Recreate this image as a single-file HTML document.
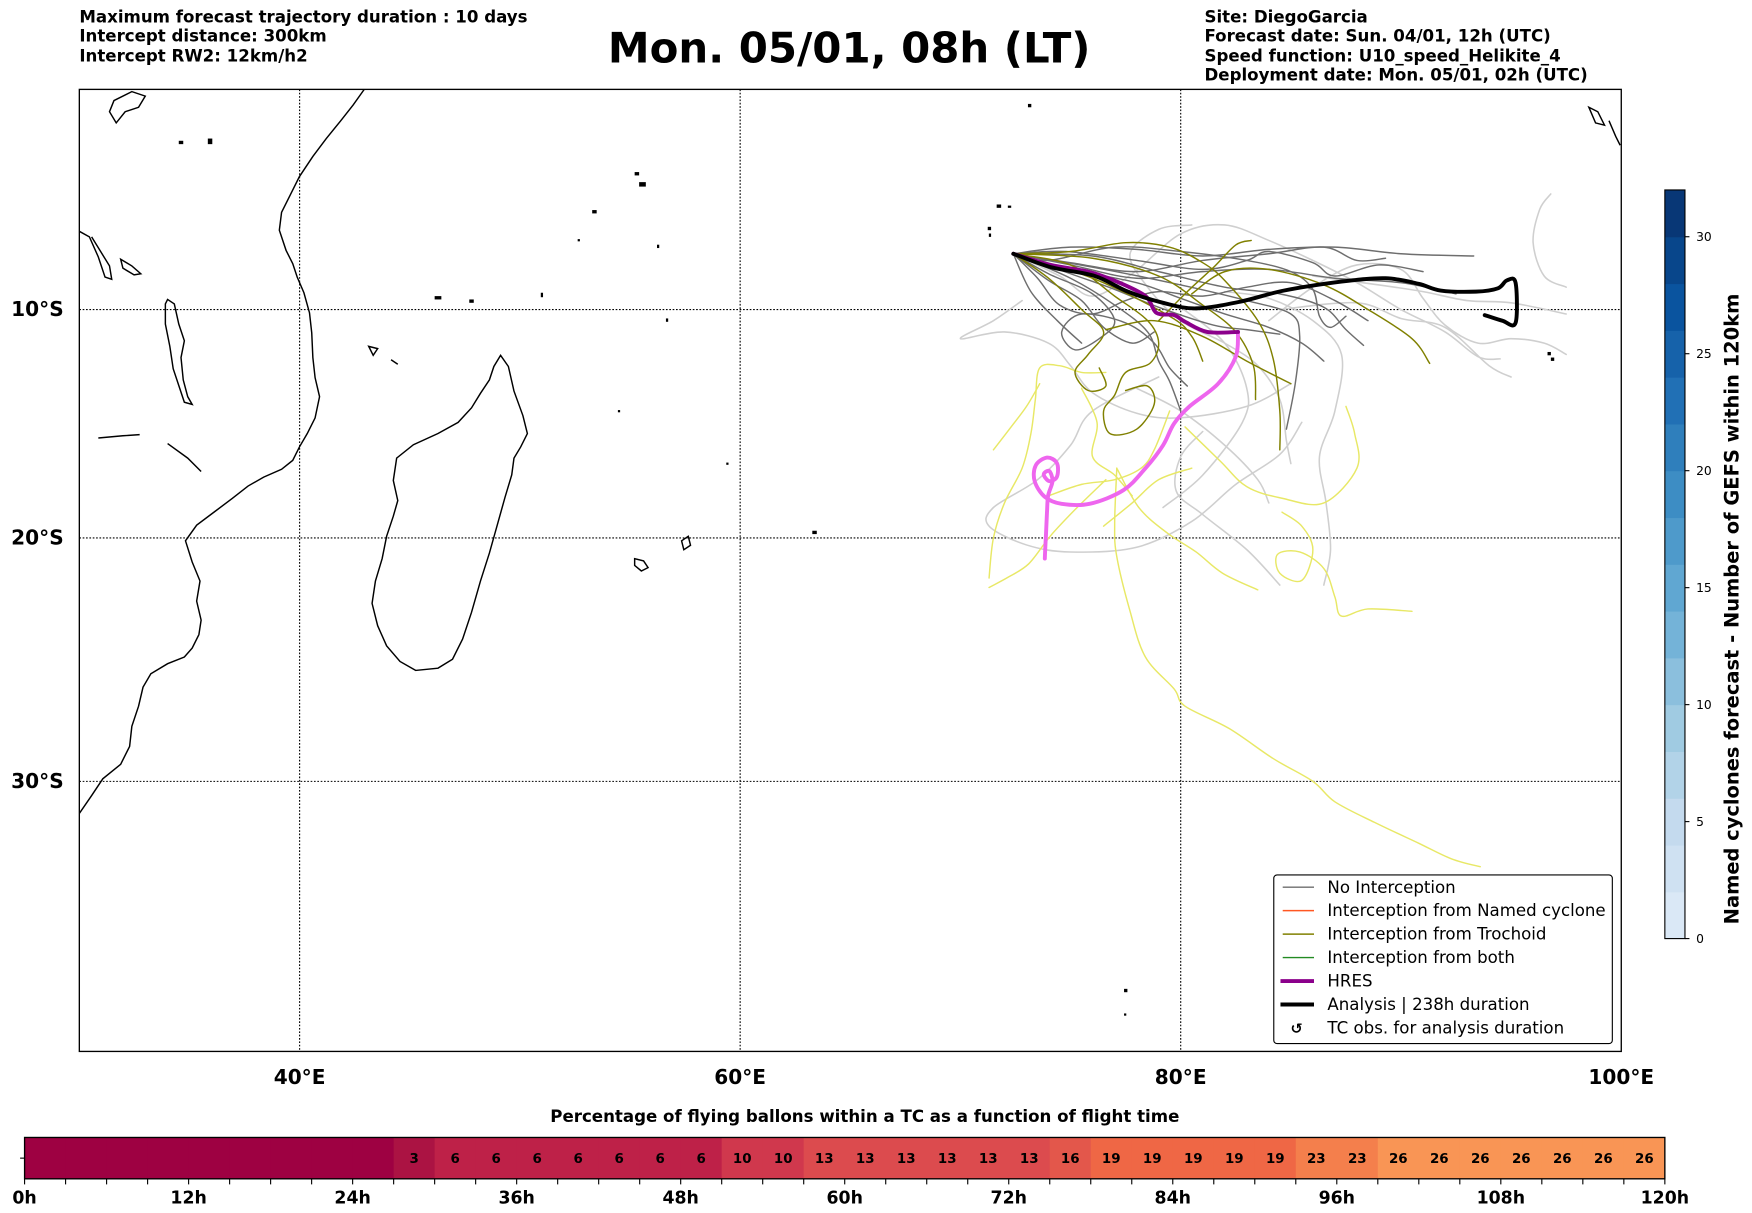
<!DOCTYPE html>
<html><head><meta charset="utf-8"><style>
html,body{margin:0;padding:0;background:#fff;}
svg{display:block;font-family:"DejaVu Sans","Liberation Sans",sans-serif;}
</style></head><body>
<svg id="fig" width="1752" height="1213" viewBox="0 0 1568 1085.6" preserveAspectRatio="none" xmlns="http://www.w3.org/2000/svg">
<rect x="0" y="0" width="1568" height="1086" fill="#fff"/>
<g font-size="14.9" font-weight="bold">
<text x="71" y="20">Maximum forecast trajectory duration : 10 days</text>
<text x="71" y="37">Intercept distance: 300km</text>
<text x="71" y="55">Intercept RW2: 12km/h2</text>
</g>
<text x="760" y="56" font-size="37.5" font-weight="bold" text-anchor="middle">Mon. 05/01, 08h (LT)</text>
<g font-size="14.9" font-weight="bold">
<text x="1078" y="20">Site: DiegoGarcia</text>
<text x="1078" y="37">Forecast date: Sun. 04/01, 12h (UTC)</text>
<text x="1078" y="55">Speed function: U10_speed_Helikite_4</text>
<text x="1078" y="72">Deployment date: Mon. 05/01, 02h (UTC)</text>
</g>
<g id="map">
<clipPath id="mapclip"><rect x="71" y="80" width="1380" height="861"/></clipPath>
<g id="grid"></g>
<g clip-path="url(#mapclip)" fill="none" stroke="#000" stroke-width="1.3">
<path d="M71,728 L82,712 L92,697 L108,684 L116,668 L118,650 L124,632 L128,615 L135,603 L150,594 L165,588 L172,580 L178,568 L180,555 L176,538 L179,520 L172,503 L166,484 L176,470 L192,458 L208,446 L222,435 L236,427 L252,420 L262,412 L268,400 L275,388 L282,374 L286,355 L282,338 L280,320 L279,298 L277,280 L272,262 L266,248 L262,236 L256,224 L250,206 L252,190 L260,174 L268,158 L280,140 L292,124 L305,108 L316,94 L326,80"/>
<path d="M71,207 L80,212 L88,230 L94,248 L100,250 L98,238 L90,225 L82,212"/>
<path d="M150,268 L156,272 L160,290 L165,305 L162,320 L164,340 L168,355 L172,362 L165,360 L160,345 L155,330 L152,310 L148,290 L148,272 Z"/>
<path d="M448,318 L455,328 L460,350 L468,372 L472,388 L466,400 L460,410 L458,425 L452,445 L445,470 L438,495 L430,520 L422,548 L414,572 L405,590 L392,598 L372,600 L358,592 L346,578 L338,560 L333,540 L336,520 L342,500 L346,480 L352,462 L356,448 L352,430 L355,410 L370,398 L392,388 L410,378 L422,365 L430,352 L438,340 L442,328 Z"/>
<path d="M88,392 L110,390 L125,389"/>
<path d="M150,397 L168,410 L180,422"/>
<path d="M108,232 L118,238 L126,245 L120,246 L110,240 Z"/>
<path d="M568,500 L576,502 L580,508 L574,511 L568,506 Z"/>
<path d="M610,484 L616,480 L618,488 L612,492 Z"/>
<path d="M102,90 L118,82 L130,86 L124,96 L112,100 L104,110 L98,100 Z"/>
<path d="M1422,96 L1430,100 L1436,112 L1428,110 Z"/>
<path d="M1440,108 L1446,122 L1450,130"/>
<path d="M330,310 L334,318 L338,312 Z"/>
<path d="M350,322 L356,326"/>
</g>
<g fill="#000" clip-path="url(#mapclip)">
<rect x="892" y="183" width="4" height="3"/><rect x="902" y="184" width="3" height="2"/><rect x="884" y="203" width="3" height="3"/><rect x="885" y="209" width="2" height="3"/>
<rect x="568" y="154" width="4" height="3"/><rect x="572" y="163" width="6" height="4"/><rect x="530" y="188" width="4" height="3"/><rect x="517" y="214" width="2" height="2"/><rect x="588" y="219" width="2" height="3"/>
<rect x="389" y="265" width="6" height="3"/><rect x="420" y="268" width="4" height="3"/><rect x="484" y="262" width="2" height="4"/>
<rect x="1385" y="315" width="3" height="3"/><rect x="1388" y="320" width="3" height="3"/><rect x="1006" y="885" width="3" height="3"/><rect x="1006" y="907" width="2" height="2"/>
<rect x="727" y="475" width="4" height="3"/><rect x="596" y="285" width="2" height="3"/><rect x="553" y="367" width="2" height="2"/><rect x="650" y="414" width="2" height="2"/>
<rect x="920" y="93" width="3" height="3"/><rect x="160" y="126" width="4" height="3"/><rect x="186" y="124" width="4" height="5"/>
</g>
<g id="traj" clip-path="url(#mapclip)"></g>
<rect x="71" y="80" width="1380" height="861" fill="none" stroke="#000" stroke-width="1.2"/>
<g id="axlabels" font-size="18" font-weight="bold"></g>
</g>
<g>
<rect x="1140" y="783" width="303" height="151" rx="3" fill="#fff" stroke="#000" stroke-width="1"/>
<g font-size="14.9">
<g><line x1="1148" y1="794" x2="1176" y2="794" stroke="#6e6e6e" stroke-width="1.3"/><text x="1188" y="799">No Interception</text></g>
<g><line x1="1148" y1="815" x2="1176" y2="815" stroke="#ff5722" stroke-width="1.3"/><text x="1188" y="820">Interception from Named cyclone</text></g>
<g><line x1="1148" y1="836" x2="1176" y2="836" stroke="#808000" stroke-width="1.3"/><text x="1188" y="841">Interception from Trochoid</text></g>
<g><line x1="1148" y1="857" x2="1176" y2="857" stroke="#228b22" stroke-width="1.3"/><text x="1188" y="862">Interception from both</text></g>
<g><line x1="1146" y1="878" x2="1176" y2="878" stroke="#8b008b" stroke-width="3.5"/><text x="1188" y="883">HRES</text></g>
<g><line x1="1146" y1="899" x2="1176" y2="899" stroke="#000" stroke-width="3.5"/><text x="1188" y="904">Analysis | 238h duration</text></g>
<g><text x="1155" y="925" font-weight="bold" font-size="13">↺</text><text x="1188" y="925">TC obs. for analysis duration</text></g>
</g>
</g>
<g id="cbar"></g>
<text transform="translate(1556,545) rotate(-90)" font-size="17.4" font-weight="bold" text-anchor="middle">Named cyclones forecast - Number of GEFS within 120km</text>
<text x="774" y="1004" font-size="14.9" font-weight="bold" text-anchor="middle">Percentage of flying ballons within a TC as a function of flight time</text>
<g id="pbar"></g>
</svg>
<script>
const lonTicks=[40,60,80,100];
const latTicks=[10,20,30];
const analysis=[[72.4,7.5],[74.1,8.1],[76.1,8.5],[77.6,9.2],[79.2,9.7],[80.7,9.95],[82.7,9.65],[84.7,9.15],[87.3,8.75],[89.3,8.6],[90.8,8.85],[91.8,9.15],[93.4,9.2],[94.4,9.05],[94.8,8.7],[95.2,8.8],[95.2,10.6],[94.6,10.5],[93.8,10.25]];
const hres=[[72.4,7.5],[74.1,8.0],[75.8,8.3],[77.1,8.75],[78.4,9.4],[78.9,10.15],[79.7,10.25],[80.2,10.55],[81.2,11.0],[82.6,11.0]];
const hresTail=[[82.6,11.0],[82.5,12.1],[81.7,13.3],[80.4,14.3],[79.7,15.05],[79.2,16.0],[78.4,17.0],[77.4,17.95],[75.86,18.54],[74.59,18.54],[73.83,18.24],[73.37,17.56],[73.42,16.88],[73.93,16.54],[74.38,16.78],[74.38,17.37],[74.03,17.56],[73.78,17.27],[74.03,17.12],[74.18,17.56],[73.98,18.2],[73.93,18.93],[73.88,19.9],[73.83,20.88]];
const noIntercept=[
[[72.4,7.5],[75,7.2],[78,7.3],[81,7.6],[84,7.3],[87,7.2],[90,7.5],[93.3,7.6]],
[[72.4,7.5],[75,7.9],[78,8.3],[81,7.8],[84,7.5],[86.5,7.2],[88,7.8],[89.3,7.7]],
[[72.4,7.5],[74,8.4],[76,9.3],[77,10.5],[76.3,11.3],[75.2,11.8],[74.6,11],[75.5,10.2],[77.5,10.6],[78.8,11.5],[79.5,12.6],[80.3,13.4]],
[[72.4,7.5],[75,8.2],[78,8.8],[80,9.5],[82,10.2],[84,10.8],[85.5,11.5],[86.5,12.3]],
[[72.4,7.5],[73.5,8.6],[74.5,9.8],[76,10.2],[77.5,9.6],[79,9.2],[81,9.4],[83,9.0],[85,8.8],[87,9.6],[88.5,10.5]],
[[72.4,7.5],[76,7.6],[79,8.3],[82,9],[84.5,9.3],[86.5,9.9],[87.5,10.9],[88.3,11.6]],
[[72.4,7.5],[75,8.6],[77,9.8],[78.5,11],[79,12.3],[79.5,13.2],[80,14.5]],
[[72.4,7.5],[74,7.8],[77,7.2],[80,7.4],[83,7.8],[85,8.3],[86,9.1],[86.3,10.3],[86.8,10.8],[87.5,10.3]],
[[72.4,7.5],[75,8],[78,8.6],[81,8.3],[84,8.2],[87,8.6],[90,8.8],[92.5,9.3]],
[[72.4,7.5],[74,8.7],[75.5,9.6],[76.5,10.8],[77.8,11.5],[78.8,11.0]],
[[72.4,7.5],[76,8.1],[80,8.9],[83,9.6],[85,10.2],[85.4,11.2],[85.2,13.3],[84.8,15.3]],
[[72.4,7.5],[75,8.4],[77,9.1],[79,9.9],[81.5,10.7],[83,10.9],[84.5,11.1]],
[[72.4,7.5],[74.8,7.4],[78,7.8],[81,8.2],[83,7.8],[84,7.4],[86,7.9],[87,8.5],[89,8.0],[91,8.3]],
[[72.4,7.5],[73.2,9.2],[74.4,10.5],[75.5,11.5]]
];
const lightTraj=[
[[72.4,7.5],[74.5,8.5],[76,9.4],[77.8,8.4],[80,6.6],[82,6.2],[84,6.9],[86,7.8],[88,8.8],[90,10],[92,11],[93.5,12.1],[94.5,12.2]],
[[72.8,9.6],[71.5,10.5],[70,11.3],[72,11],[74,11.5],[75,12.5],[76,13.7],[78,14.6],[80,14.8],[83,14.3],[85,13.3]],
[[79,13],[76,14.5],[75,16],[73.5,17.5],[71.5,18.7],[71.3,19.5],[73,20.3],[75,20.6],[78,20.4],[80.5,19.3],[82.5,17.7],[84.5,16.4],[85.5,15]],
[[84,10.5],[86,9],[88,8],[90,8.2],[91,9.5],[92,10.7],[93.5,11.5],[95,11.3],[96.5,11.5],[97.5,12]],
[[96.8,4.8],[96.3,5.5],[96,7],[96.5,8.5],[97.5,9]],
[[80.5,6.2],[79,6.4],[77.7,7.5],[78.5,9],[80,10.5],[82,11.5],[83.5,12.5],[84.5,14],[84.8,15.8],[85,16.8]],
[[82,9.2],[84,9.5],[86,10.5],[87.3,12],[87,14.5],[86.3,16.5],[86.6,18.5],[86.8,20.5],[86.5,22]],
[[78,13.5],[80,14.5],[82,16],[83.5,17.5],[84,18.5]],
[[84.5,10],[88,9.7],[90,10.4],[92,10.8],[94,12.5],[95,13]],
[[86,8.5],[89,8.9],[91,9.2],[93,9.6],[95,9.7],[97.5,10.2]],
[[81,15.4],[80,16.5],[79.8,18],[81,19],[83,20.5],[84.5,22]],
[[80,9.9],[82,11.5],[83,13.5],[82.8,15],[81,17.3],[79.2,18.7]]
];
const trochoid=[
[[72.4,7.5],[75,7.4],[77.5,7.0],[79.5,7.2],[81,7.9],[82,8.7],[83.5,10.5],[84.2,12.2],[84.5,14.5],[84.5,16.2]],
[[72.4,7.5],[75,8],[77,9.4],[78.5,10.5],[79,11.5],[78.6,12.4],[77.5,12.8],[77,13.8],[76.5,14.5],[76.8,15.5],[78,15.3],[78.8,14.2],[78.5,13.4],[77.5,13.6]],
[[72.4,7.5],[74,8.6],[75.5,10],[76.5,11],[75.8,12],[75.2,12.8],[75.8,13.6],[76.6,13.4],[76.3,12.6]],
[[72.4,7.5],[76,7.7],[79,8.5],[81,9.8],[82.5,11],[83.3,12.5],[83.4,14]],
[[79,10.5],[80.3,9.2],[81.5,8.1],[82.5,7.1],[83.2,6.9]],
[[72.4,7.5],[76,8.6],[79.5,10.3],[80.5,11.2],[81,12.3]],
[[80.5,9.3],[82,8.3],[84,8.2],[86.5,8.9],[88.5,10],[90.5,11.3],[91.3,12.4]],
[[76.6,10.9],[78.8,10.5],[81,11.2],[83,12.3],[85,13.3]]
];
const yellowTraj=[
[[77.1,17.0],[77.0,19.4],[77.1,20.8],[77.7,23.1],[78.4,25.0],[79.7,26.3],[80.2,27.0],[82.2,27.9],[84.2,29.1],[86.0,30.0],[87.0,30.8],[88.8,31.6],[90.8,32.4],[92.3,33.0],[93.6,33.3]],
[[77.1,17.0],[78.1,18.7],[79.4,19.8],[80.7,20.6],[81.9,21.5],[83.5,22.2]],
[[76.6,17.5],[75.3,18.7],[74.1,19.9],[73.1,21.1],[72.1,21.7],[71.3,22.1]],
[[71.3,21.7],[71.5,20],[72,18.5],[72.8,17],[73.2,15.5],[73.4,14],[73.6,12.6],[74.5,12.5],[75.5,12.8],[76.6,12.8]],
[[71.5,16.2],[72.3,15.2],[73,14.3],[73.6,13.3]],
[[74,18.2],[75.5,17.7],[77,17.5],[78.2,17],[78.8,16.2],[79.5,14.5]],
[[84.6,18.9],[85.5,19.5],[86,20.5],[85.5,21.8],[84.5,21.5],[84.4,20.7],[85.4,20.6],[86.5,21.3],[87,22.5],[87.3,23.3],[88.5,23],[90.5,23.1]],
[[80.2,15.2],[81.8,16.7],[83,17.8],[84.6,18.3],[86.5,18.5],[88,17],[87.9,15.5],[87.5,14.3]],
[[75.5,13.5],[76.2,15],[76,16.5],[77,17.3],[77.8,18.2]],
[[76.5,19.5],[77.8,18.5],[79,17.5],[80.5,17.0]]
];
const cbarTicks=[0,5,10,15,20,25,30];
const pctValues=[0,0,0,0,0,0,0,0,0,3,6,6,6,6,6,6,6,10,10,13,13,13,13,13,13,16,19,19,19,19,19,23,23,26,26,26,26,26,26,26];
const hourTicks=["0h","12h","24h","36h","48h","60h","72h","84h","96h","108h","120h"];

const NS="http://www.w3.org/2000/svg";
const X0=71,PX=19.714,Y10=277;
function merc(lat){const r=lat*Math.PI/180;return Math.log(Math.tan(Math.PI/4+r/2))*180/Math.PI;}
function xOf(lon){return X0+(lon-30)*PX;}
function yOf(lat){return Y10+(merc(lat)-merc(10))*PX;}
function mk(tag,attrs,parent){const e=document.createElementNS(NS,tag);for(const k in attrs)e.setAttribute(k,attrs[k]);parent.appendChild(e);return e;}
function smoothPath(arr){
  const p=arr.map(a=>[xOf(a[0]),yOf(a[1])]);
  let d="M"+p[0][0].toFixed(1)+","+p[0][1].toFixed(1);
  for(let i=0;i<p.length-1;i++){
    const p0=p[Math.max(i-1,0)],p1=p[i],p2=p[i+1],p3=p[Math.min(i+2,p.length-1)];
    const c1=[p1[0]+(p2[0]-p0[0])/6,p1[1]+(p2[1]-p0[1])/6];
    const c2=[p2[0]-(p3[0]-p1[0])/6,p2[1]-(p3[1]-p1[1])/6];
    d+=" C"+c1[0].toFixed(1)+","+c1[1].toFixed(1)+" "+c2[0].toFixed(1)+","+c2[1].toFixed(1)+" "+p2[0].toFixed(1)+","+p2[1].toFixed(1);
  }
  return d;
}

const grid=document.getElementById('grid');
lonTicks.forEach(l=>{if(l<100){const g=mk('line',{x1:xOf(l),x2:xOf(l),y1:80,y2:941,stroke:'#000','stroke-width':1,'stroke-dasharray':'1.5,1.5'},grid);

}});
latTicks.forEach(l=>{const g=mk('line',{x1:71,x2:1451,y1:yOf(l),y2:yOf(l),stroke:'#000','stroke-width':1,'stroke-dasharray':'1.5,1.5'},grid);

});
const axl=document.getElementById('axlabels');
lonTicks.forEach(l=>{const t=mk('text',{x:xOf(l),y:970,'text-anchor':'middle'},axl);t.textContent=l+"°E";

});
latTicks.forEach(l=>{const t=mk('text',{x:57,y:yOf(l)+6,'text-anchor':'end'},axl);t.textContent=l+"°S";

});

const tg=document.getElementById('traj');
function drawSet(set,color,w,name){set.forEach(tr=>{const p=mk('path',{d:smoothPath(tr),fill:'none',stroke:color,'stroke-width':w,'stroke-linejoin':'round','stroke-linecap':'round'},tg);

});}
drawSet(lightTraj,'#cfcfcf',1.4,'no-interception-trajectory-light');
drawSet(yellowTraj,'#e8e866',1.3,'trajectory-yellow');
drawSet(noIntercept,'#6e6e6e',1.3,'no-interception-trajectory');
drawSet(trochoid,'#808000',1.3,'trochoid-interception-trajectory');
drawSet([hresTail],'#ee66ee',3.5,'hres-tail-line');
drawSet([hres],'#8b008b',3.5,'hres-line');
drawSet([analysis],'#000',3.5,'analysis-line');

const cb=document.getElementById('cbar');
const cTop=170,cBot=840,cMax=32;
const blues=[[247,251,255],[222,235,247],[198,219,239],[158,202,225],[107,174,214],[66,146,198],[33,113,181],[8,81,156],[8,48,107]];
function bl(t){const s=t*(blues.length-1);const i=Math.min(Math.floor(s),blues.length-2);const f=s-i;const a=blues[i],b=blues[i+1];return `rgb(${Math.round(a[0]+(b[0]-a[0])*f)},${Math.round(a[1]+(b[1]-a[1])*f)},${Math.round(a[2]+(b[2]-a[2])*f)})`;}
function cy(v){return cBot-(v/cMax)*(cBot-cTop);}
for(let v=0;v<cMax;v+=2){const r=mk('rect',{x:1490,y:cy(v+2),width:18,height:cy(v)-cy(v+2)+0.5,fill:bl(0.12+0.88*(v+1)/cMax)},cb);

}
mk('rect',{x:1490,y:cTop,width:18,height:cBot-cTop,fill:'none',stroke:'#000','stroke-width':1},cb);
cbarTicks.forEach(v=>{mk('line',{x1:1508,x2:1512,y1:cy(v),y2:cy(v),stroke:'#000'},cb);const t=mk('text',{x:1518,y:cy(v)+4,'font-size':11},cb);t.textContent=v;

});

const pb=document.getElementById('pbar');
const bx0=22,bx1=1490,by0=1018,by1=1055,maxH=120;
function hx(h){return bx0+(h/maxH)*(bx1-bx0);}
const pcol={0:'#9e0142',3:'#ab1343',6:'#be2148',10:'#d0384d',13:'#dc4b4e',16:'#e3574b',19:'#ef6745',23:'#f47f4c',26:'#f99555'};
pctValues.forEach((v,i)=>{const r=mk('rect',{x:hx(i*3),y:by0,width:hx(3)-hx(0)+0.6,height:by1-by0,fill:pcol[v]||'#f99555'},pb);


if(v>0){const t=mk('text',{x:hx(i*3+1.5),y:by0+23,'text-anchor':'middle','font-size':12,'font-weight':'bold'},pb);t.textContent=v;

}});
mk('rect',{x:bx0,y:by0,width:bx1-bx0,height:by1-by0,fill:'none',stroke:'#000','stroke-width':1.2},pb);
mk('line',{x1:bx0-4,x2:bx0,y1:(by0+by1)/2,y2:(by0+by1)/2,stroke:'#000'},pb);
for(let h=0;h<=120;h+=3){mk('line',{x1:hx(h),x2:hx(h),y1:by1,y2:by1+5,stroke:'#000','stroke-width':1},pb);}
hourTicks.forEach((s,i)=>{const t=mk('text',{x:hx(i*12),y:1077,'text-anchor':'middle','font-size':15.5,'font-weight':'bold'},pb);t.textContent=s;

});
</script>
</body></html>
